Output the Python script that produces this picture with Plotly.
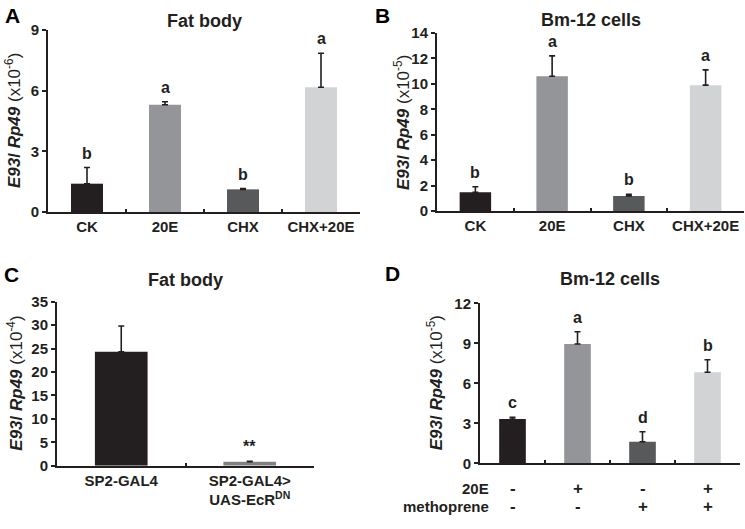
import plotly.graph_objects as go

# ---- data ----
catA = ["CK", "20E", "CHX", "CHX+20E"]
valA = [1.4, 5.3, 1.12, 6.17]
errA = [0.8, 0.15, 0.04, 1.68]
letA = ["b", "a", "b", "a"]

catB = ["CK", "20E", "CHX", "CHX+20E"]
valB = [1.47, 10.6, 1.18, 9.9]
errB = [0.44, 1.6, 0.13, 1.2]
letB = ["b", "a", "b", "a"]

catC = ["SP2-GAL4", "SP2-GAL4><br>UAS-EcR<sup>DN</sup>"]
valC = [24.3, 0.85]
errC = [5.5, 0.1]
letC = ["", "**"]

catD = ["g1", "g2", "g3", "g4"]
valD = [3.32, 8.95, 1.62, 6.83]
errD = [0.13, 0.92, 0.75, 0.94]
letD = ["c", "a", "d", "b"]
sign20E = ["-", "+", "-", "+"]
signMeth = ["-", "-", "+", "+"]

colors4 = ["#231f20", "#939598", "#58595b", "#d1d3d4"]
colorsC = ["#231f20", "#808285"]

FONT = "Liberation Sans"
INK = "#231f20"

W, H = 745, 529
def px(x):
    return x / W
def py(y):
    return 1 - y / H

panels = [
    # cats, vals, errs, letters, colors, xdom(px), ydom(px: bottom, top), yrange, dtick, exp, title, title center y
    (catA, valA, errA, letA, colors4, (48, 360), (212, 30), [0, 9], 3, "-6", "Fat body", 21),
    (catB, valB, errB, letB, colors4, (437, 744), (211, 33), [0, 14], 2, "-5", "Bm-12 cells", 20),
    (catC, valC, errC, letC, colorsC, (57, 314), (465.7, 301.7), [0, 35], 5, "-4", "Fat body", 280),
    (catD, valD, errD, letD, colors4, (480, 740), (463.3, 303.3), [0, 12], 3, "-5", "Bm-12 cells", 279),
]

fig = go.Figure()
annotations = []
layout = {}

for i, (cats, vals, errs, lets, cols, xd, yd, yr, dt, ex, title, tcy) in enumerate(panels):
    n = i + 1
    xa = "x" if n == 1 else f"x{n}"
    ya = "y" if n == 1 else f"y{n}"
    fig.add_trace(go.Bar(
        x=cats, y=vals, marker=dict(color=cols, line=dict(width=0)),
        width=0.41,
        error_y=dict(type="data", symmetric=False, array=errs,
                     arrayminus=[0] * len(errs), color=INK, thickness=1.6, width=3),
        xaxis=xa, yaxis=ya, showlegend=False, hoverinfo="skip",
    ))
    xkey = "xaxis" if n == 1 else f"xaxis{n}"
    ykey = "yaxis" if n == 1 else f"yaxis{n}"
    layout[xkey] = dict(
        domain=[px(xd[0]), px(xd[1])], anchor=ya, type="category",
        range=[-0.5, len(cats) - 0.5], automargin=False, tickangle=0,
        showline=True, linecolor=INK, linewidth=2,
        ticks="inside", ticklen=3, tickwidth=2, tickcolor=INK, tickson="boundaries",
        showticklabels=(n != 4),
        tickfont=dict(family=FONT, size=15, color=INK, weight="bold"),
        showgrid=False, zeroline=False, fixedrange=True,
    )
    layout[ykey] = dict(
        domain=[py(yd[0]), py(yd[1])], anchor=xa, range=yr, dtick=dt, tick0=0,
        automargin=False,
        showline=True, linecolor=INK, linewidth=2,
        ticks="outside", ticklen=4, tickwidth=2, tickcolor=INK,
        tickfont=dict(family=FONT, size=15, color=INK, weight="bold"),
        showgrid=False, zeroline=False, fixedrange=True,
    )
    # letters above bars
    for c, v, e, l in zip(cats, vals, errs, lets):
        if l:
            annotations.append(dict(
                x=c, y=v + e, xref=xa, yref=ya, text=f"<b>{l}</b>",
                showarrow=False, xanchor="center", yanchor="bottom", yshift=4,
                font=dict(family=FONT, size=16, color=INK)))
    # title
    xc = (xd[0] + xd[1]) / 2
    annotations.append(dict(
        x=px(xc), y=py(tcy), xref="paper", yref="paper",
        text=f"<b>{title}</b>", showarrow=False, xanchor="center", yanchor="middle",
        font=dict(family=FONT, size=18, color=INK)))
    # y-axis title
    yc = (yd[0] + yd[1]) / 2
    ytx = {1: 13, 2: 402, 3: 15, 4: 435}[n]
    annotations.append(dict(
        x=px(ytx), y=py(yc), xref="paper", yref="paper", textangle=-90,
        text=f"<b><i>E93</i>/ <i>Rp49</i></b> (x10<sup>{ex}</sup>)",
        showarrow=False, xanchor="center", yanchor="middle",
        font=dict(family=FONT, size=17, color=INK)))

# panel letters
for lab, lx, ly in [("A", 3, 15), ("B", 373, 15), ("C", 2, 274), ("D", 383, 273)]:
    annotations.append(dict(
        x=px(lx), y=py(ly), xref="paper", yref="paper", text=f"<b>{lab}</b>",
        showarrow=False, xanchor="left", yanchor="middle",
        font=dict(family=FONT, size=21, color="#000000")))

# panel D treatment rows
for rowlab, signs, yy in [("20E", sign20E, 488), ("methoprene", signMeth, 506)]:
    annotations.append(dict(
        x=px(491), y=py(yy), xref="paper", yref="paper", text=f"<b>{rowlab}</b>",
        showarrow=False, xanchor="right", yanchor="middle",
        font=dict(family=FONT, size=15, color=INK)))
    for c, s in zip(catD, signs):
        annotations.append(dict(
            x=c, y=py(yy), xref="x4", yref="paper", text=f"<b>{s}</b>",
            showarrow=False, xanchor="center", yanchor="middle",
            font=dict(family=FONT, size=17, color=INK)))

fig.update_layout(
    width=W, height=H, margin=dict(l=0, r=0, t=0, b=0),
    paper_bgcolor="white", plot_bgcolor="white",
    annotations=annotations, bargap=0.59, hovermode=False, **layout,
)
fig.write_html(
    "out.html",
    config={"displayModeBar": False, "staticPlot": True},
    post_script="document.body.style.margin='0';document.body.style.overflow='hidden';",
)
